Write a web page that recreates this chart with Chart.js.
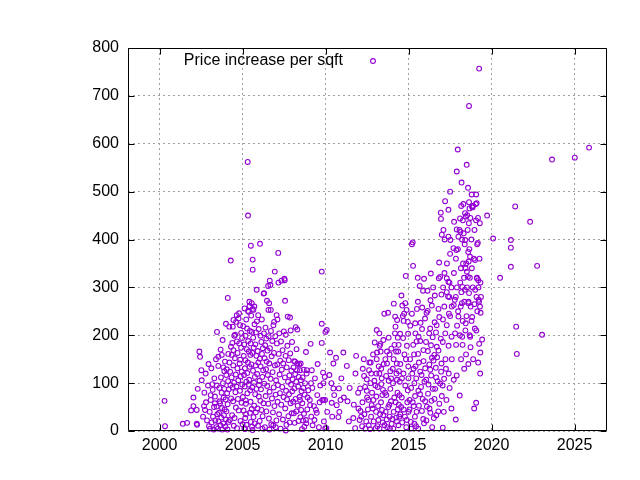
<!DOCTYPE html>
<html>
<head>
<meta charset="utf-8">
<script src="https://cdn.jsdelivr.net/npm/chart.js@4.4.1/dist/chart.umd.min.js"></script>
<style>
html,body{margin:0;padding:0;background:#fff;}
canvas{display:block;}
</style>
</head>
<body>
<canvas id="c" width="640" height="480"></canvas>
<script>
const seriesLabel = 'Price increase per sqft';
const xTickLabels = [2000, 2005, 2010, 2015, 2020, 2025];
const yTickLabels = [0, 100, 200, 300, 400, 500, 600, 700, 800];
const xRange = [1998.1, 2026.95];
const yRange = [0, 800];

// [year, price increase per sqft]
const earlyPoints = [
[2000.3,63],[2000.33,10],[2001.4,15],[2001.66,17],[2001.9,43],[2002.04,70],[2002.04,52],[2002.24,44],[2002.26,13],[2002.24,15],[2002.4,166],[2002.44,155],[2002.52,127],[2002.54,106],[2002.7,80],[2002.74,44],[2002.3,88],[2002.62,30],
[2002.8,60],[2002.86,22],[2002.78,120],[2002.92,95],[2002.98,10],[2002.68,52],[2002.95,140],
[2003.04,5],[2003.08,75],[2003.08,65],[2003.02,40],[2003.12,131],[2003.14,18],[2003.18,98],[2003.2,86],[2003.22,30],
[2003.26,3],[2003.3,110],[2003.28,50],[2003.34,72],[2003.34,58],[2003.36,22],[2003.4,150],[2003.42,8],[2003.44,51],[2003.46,207],[2003.48,35],[2003.45,95],
[2003.52,5],[2003.54,155],[2003.54,136],[2003.55,20],[2003.58,38],[2003.6,90],[2003.62,62],[2003.64,58],[2003.66,12],[2003.68,170],[2003.7,112],[2003.72,28],[2003.74,80],[2003.75,159],[2003.76,48],[2003.78,3],[2003.8,190],[2003.82,100],[2003.84,133],[2003.84,16],[2003.86,70],[2003.88,33],[2003.9,125],[2003.9,88],[2003.92,45],[2003.94,145],[2003.96,9],[2003.98,66],[2004.0,224],[2004.0,24],
[2004.02,117],[2004.03,41],[2004.05,129],[2004.07,79],[2004.09,3],[2004.1,56],[2004.11,278],[2004.13,104],[2004.14,161],[2004.16,19],[2004.17,87],[2004.2,218],[2004.21,143],[2004.23,23],[2004.25,124],[2004.27,96],[2004.29,356],[2004.3,176],[2004.31,68],[2004.34,112],[2004.35,159],[2004.37,33],[2004.38,184],[2004.4,91],[2004.41,218],[2004.43,62],[2004.44,137],[2004.45,169],[2004.45,232],[2004.47,11],[2004.49,101],[2004.5,199],
[2004.52,27],[2004.54,152],[2004.55,201],[2004.57,81],[2004.59,118],[2004.6,49],[2004.61,228],[2004.63,93],[2004.65,242],[2004.66,187],[2004.67,6],[2004.69,131],[2004.7,163],[2004.72,67],[2004.74,106],[2004.76,235],[2004.77,43],[2004.79,246],[2004.8,183],[2004.82,141],[2004.84,84],[2004.85,221],[2004.86,149],[2004.88,21],[2004.89,114],[2004.91,174],[2004.92,205],[2004.94,59],[2004.95,124],[2004.97,194],[2004.98,97],[2005.0,14]
];
const midPoints = [
[2005.02,71],[2005.04,219],[2005.07,157],[2005.06,43],[2005.09,117],[2005.11,6],[2005.1,181],[2005.13,93],[2005.12,256],[2005.16,27],[2005.14,131],[2005.19,64],[2005.17,148],[2005.18,199],[2005.21,35],[2005.23,103],[2005.2,57],[2005.22,233],[2005.26,171],[2005.24,13],[2005.27,214],[2005.29,79],[2005.28,121],[2005.31,562],[2005.33,450],[2005.33,251],[2005.32,143],[2005.34,188],[2005.36,249],[2005.37,97],[2005.38,166],[2005.41,270],[2005.42,261],[2005.43,134],[2005.4,107],[2005.45,38],[2005.44,209],[2005.47,159],[2005.46,85],[2005.49,183],[2005.5,387],[2005.5,19],[2005.48,61],
[2005.52,241],[2005.53,139],[2005.55,46],[2005.56,207],[2005.55,267],[2005.58,91],[2005.59,163],[2005.57,9],[2005.61,358],[2005.61,337],[2005.62,255],[2005.63,126],[2005.64,195],[2005.66,29],[2005.65,253],[2005.67,174],[2005.69,101],[2005.7,53],[2005.71,260],[2005.72,223],[2005.74,113],[2005.73,16],[2005.76,77],[2005.77,181],[2005.79,137],[2005.8,39],[2005.81,206],[2005.83,157],[2005.84,88],[2005.85,295],[2005.86,229],[2005.88,119],[2005.9,47],[2005.91,167],[2005.93,11],[2005.94,242],[2005.95,143],[2005.97,213],[2005.98,72],[2005.99,96],
[2006.02,105],[2006.03,21],[2006.04,151],[2006.05,391],[2006.07,63],[2006.08,199],[2006.09,135],[2006.11,87],[2006.13,186],[2006.14,44],[2006.16,233],[2006.17,161],[2006.19,113],[2006.21,31],[2006.22,173],[2006.24,127],[2006.26,58],[2006.27,287],[2006.29,204],[2006.3,288],[2006.31,99],[2006.33,152],[2006.35,8],[2006.36,179],[2006.38,216],[2006.39,73],[2006.41,129],[2006.43,193],[2006.44,41],[2006.45,145],[2006.47,272],[2006.48,94],[2006.5,168],
[2006.52,117],[2006.54,303],[2006.55,57],[2006.56,253],[2006.57,198],[2006.59,26],[2006.6,267],[2006.61,141],[2006.63,82],[2006.64,314],[2006.65,173],[2006.68,305],[2006.69,109],[2006.7,253],[2006.71,209],[2006.73,14],[2006.75,156],[2006.77,68],[2006.79,188],[2006.81,123],[2006.83,39],[2006.86,221],[2006.87,91],[2006.89,163],[2006.9,228],[2006.92,52],[2006.94,333],[2006.95,137],[2006.97,198],[2006.99,76],
[2007.02,106],[2007.04,22],[2007.05,242],[2007.07,183],[2007.09,139],[2007.1,233],[2007.11,61],[2007.13,96],[2007.15,372],[2007.16,310],[2007.18,161],[2007.2,35],[2007.21,204],[2007.23,118],[2007.25,79],[2007.27,147],[2007.29,5],[2007.31,187],[2007.33,55],[2007.34,314],[2007.36,128],[2007.39,92],[2007.41,169],[2007.43,24],[2007.45,141],[2007.47,71],[2007.49,208],
[2007.52,318],[2007.54,315],[2007.55,112],[2007.56,272],[2007.57,47],[2007.59,157],[2007.6,201],[2007.62,84],[2007.64,13],[2007.66,133],[2007.68,66],[2007.7,178],[2007.72,239],[2007.74,103],[2007.76,31],[2007.78,148],[2007.8,77],[2007.82,116],[2007.84,18],[2007.86,237],[2007.87,162],[2007.89,58],[2007.9,210],[2007.92,97],[2007.94,126],[2007.96,37],[2007.98,186],[2007.99,83],
[2005.15,4],[2005.6,2],[2006.2,5],[2006.62,3],[2007.0,8],[2007.6,1],[2006.85,12]
];
const laterPoints = [
[2008.02,108],[2008.05,61],[2008.07,133],[2008.09,37],[2008.1,146],[2008.12,89],[2008.14,17],[2008.16,145],[2008.17,119],[2008.19,67],[2008.2,217],[2008.23,103],[2008.24,41],[2008.25,171],[2008.28,127],[2008.3,212],[2008.3,141],[2008.32,53],[2008.35,93],[2008.37,21],[2008.38,113],[2008.41,139],[2008.43,71],[2008.45,127],[2008.46,65],[2008.48,29],[2008.5,141],[2008.51,106],[2008.53,44],[2008.55,83],
[2008.58,4],[2008.6,58],[2008.62,112],[2008.64,22],[2008.66,90],[2008.68,128],[2008.7,36],[2008.72,9],[2008.74,76],[2008.76,100],[2008.82,165],[2008.82,23],[2008.84,16],[2008.86,120],[2008.87,127],[2008.9,45],[2008.92,70],[2008.96,85],
[2009.05,65],[2009.07,54],[2009.1,182],[2009.12,100],[2009.14,30],[2009.17,127],[2009.2,90],[2009.22,12],[2009.3,52],[2009.33,23],[2009.36,110],[2009.42,44],[2009.47,38],[2009.5,75],[2009.52,140],[2009.6,8],[2009.64,60],[2009.68,95],[2009.77,333],[2009.77,224],[2009.77,184],[2009.8,65],[2009.85,122],[2009.87,100],[2009.88,65],[2009.9,20],[2009.95,113],[2009.97,65],[2009.98,6],[2009.99,207],
[2010.05,6],[2010.07,211],[2010.1,40],[2010.23,117],[2010.27,164],[2010.35,100],[2010.37,59],[2010.4,30],[2010.47,89],[2010.47,141],[2010.52,75],[2010.63,153],[2010.67,54],[2010.77,29],[2010.8,89],[2010.83,40],[2010.9,65],[2010.95,110],[2011.07,164],[2011.1,70],[2011.28,136],[2011.32,62],[2011.4,20],[2011.45,90],[2011.67,27],[2011.7,55],[2011.78,6],[2011.8,120],[2011.84,157],[2011.98,47],[2011.96,80],
[2012.05,23],[2012.08,89],[2012.1,42],[2012.2,10],[2012.22,60],[2012.24,130],[2012.32,115],[2012.34,35],[2012.38,92],[2012.4,5],[2012.48,84],[2012.48,108],[2012.5,70],[2012.58,65],[2012.6,12],[2012.62,127],[2012.64,143],[2012.68,4],[2012.7,100],[2012.72,143],[2012.74,30],[2012.78,54],[2012.8,80],[2012.84,47],[2012.86,160],[2012.9,20],[2012.94,105],[2012.96,185],
[2012.15,30],[2012.45,20],[2012.55,45],[2012.88,65],[2012.3,150],[2012.75,120],
[2013.02,6],[2013.04,40],[2013.06,72],[2013.06,120],[2013.08,150],[2013.08,211],[2013.1,164],[2013.14,92],[2013.16,52],[2013.18,23],[2013.2,135],[2013.24,204],[2013.24,120],[2013.25,5],[2013.26,178],[2013.3,182],[2013.32,166],[2013.34,60],[2013.36,98],[2013.38,110],[2013.4,44],[2013.42,75],[2013.46,86],[2013.48,33],[2013.48,190],[2013.5,140],
[2013.12,10],[2013.28,35],[2013.44,18],[2013.0,95],[2013.35,130],
[2013.54,245],[2013.55,12],[2013.58,80],[2013.6,150],[2013.66,75],[2013.68,24],[2013.7,141],[2013.7,166],[2013.76,247],[2013.78,50],[2013.8,105],[2013.8,195],[2013.86,30],[2013.88,5],[2013.9,125],[2013.9,88],[2013.94,62],[2013.96,172],[2013.98,15],
[2013.62,40],[2013.72,8],[2013.84,55],[2013.65,115],[2013.85,160],[2013.95,110],
[2014.06,100],[2014.08,5],[2014.1,40],[2014.1,150],[2014.11,266],[2014.18,204],[2014.19,239],[2014.21,218],[2014.22,60],[2014.25,166],[2014.26,28],[2014.27,120],[2014.29,141],[2014.3,107],[2014.31,232],[2014.33,80],[2014.37,166],[2014.39,12],[2014.41,55],[2014.47,103],[2014.49,203],[2014.5,35],[2014.5,140],
[2014.02,25],[2014.14,70],[2014.35,45],[2014.44,30],[2014.05,130],[2014.35,195],[2014.42,125],[2014.3,20],[2014.45,75],[2014.4,180],[2014.15,180],
[2014.57,283],[2014.59,70],[2014.61,18],[2014.67,194],[2014.69,120],[2014.7,45],[2014.73,245],[2014.75,160],[2014.78,30],[2014.8,95],[2014.83,324],[2014.84,150],[2014.86,8],[2014.88,253],[2014.89,23],[2014.9,178],[2014.92,60],[2014.97,203],[2014.98,135],[2014.99,110],[2015.0,40],
[2014.62,262],[2014.7,230],[2014.8,267],[2014.95,228],[2014.65,240],[2014.55,50],[2014.95,85],[2014.6,110],
[2015.06,65],[2015.09,150],[2015.1,220],[2015.13,19],[2015.15,90],[2015.2,245],[2015.2,390],[2015.22,120],[2015.25,394],[2015.27,345],[2015.28,180],[2015.31,52],[2015.33,160],[2015.35,100],[2015.38,30],[2015.39,73],[2015.4,225],[2015.41,204],[2015.42,135],[2015.45,10],[2015.46,110],[2015.48,187],[2015.5,255],
[2015.05,45],[2015.15,5],[2015.25,60],[2015.35,15],[2015.48,40],[2015.3,130],
[2015.55,320],[2015.56,270],[2015.57,161],[2015.58,5],[2015.59,84],[2015.6,197],[2015.62,143],[2015.67,303],[2015.69,77],[2015.7,188],[2015.72,226],[2015.78,117],[2015.8,42],[2015.81,213],[2015.82,258],[2015.87,293],[2015.88,25],[2015.89,169],[2015.93,318],[2015.93,16],[2015.95,103],[2015.99,235],[2016.0,131],[2016.0,62],
[2015.62,53],[2015.75,92],[2015.85,67],[2015.7,124],[2015.9,146],
[2016.05,186],[2016.06,107],[2016.07,22],[2016.08,247],[2016.14,293],[2016.15,251],[2016.16,167],[2016.17,78],[2016.24,204],[2016.25,139],[2016.26,47],[2016.3,214],[2016.31,38],[2016.32,273],[2016.34,329],[2016.35,179],[2016.36,116],[2016.4,262],[2016.41,153],[2016.42,8],[2016.45,196],[2016.46,88],[2016.48,300],
[2016.1,51],[2016.2,97],[2016.38,63],[2016.3,128],
[2016.55,159],[2016.56,67],[2016.57,227],[2016.58,283],[2016.64,132],[2016.65,206],[2016.66,112],[2016.67,33],[2016.69,221],[2016.7,176],[2016.79,41],[2016.8,168],[2016.8,255],[2016.82,319],[2016.84,352],[2016.85,238],[2016.9,322],[2016.94,456],[2016.95,443],[2016.94,193],[2016.96,124],[2016.98,285],[2016.98,141],[2017.0,73],[2017.0,410],
[2016.52,27],[2016.6,88],[2016.75,104],[2016.85,57],[2016.5,147],[2016.72,154],[2016.9,99]
];
const recentPoints = [
[2017.06,7],[2017.06,186],[2017.07,233],[2017.08,300],[2017.1,420],[2017.14,109],[2017.15,260],[2017.16,330],[2017.17,400],[2017.2,480],[2017.21,204],[2017.22,150],[2017.28,65],[2017.3,221],[2017.3,290],[2017.31,350],[2017.3,319],[2017.4,462],[2017.4,406],[2017.41,178],[2017.42,120],[2017.43,245],[2017.38,281],[2017.4,312],[2017.45,280],[2017.46,310],[2017.47,90],
[2017.05,95],[2017.12,40],[2017.25,130],
[2017.5,500],[2017.5,370],[2017.5,240],[2017.52,399],[2017.58,47],[2017.58,300],[2017.59,197],[2017.6,150],[2017.6,260],[2017.7,382],[2017.72,107],[2017.72,263],[2017.73,330],[2017.74,437],[2017.78,274],[2017.8,204],[2017.84,24],[2017.84,280],[2017.85,360],[2017.86,180],[2017.88,378],[2017.9,116],[2017.9,542],[2017.9,421],[2017.91,300],[2017.92,220],[2017.96,588],[2017.97,380],[2017.98,250],[2018.0,406],[2018.0,239],
[2018.08,74],[2018.07,420],[2018.11,310],[2018.09,200],[2018.12,416],[2018.1,444],[2018.15,340],[2018.14,260],[2018.16,150],[2018.17,470],[2018.19,519],[2018.22,400],[2018.18,290],[2018.24,301],[2018.21,267],[2018.23,197],[2018.26,230],[2018.25,180],[2018.28,350],[2018.27,440],[2018.3,474],[2018.32,413],[2018.34,320],[2018.36,270],[2018.35,130],[2018.38,390],[2018.41,399],[2018.43,340],[2018.39,295],[2018.44,225],[2018.42,210],[2018.46,160],[2018.4,455],[2018.45,448],[2018.5,556],[2018.52,300],[2018.49,240],[2018.47,350],[2018.53,451],[2018.51,333],
[2018.58,508],[2018.56,420],[2018.61,270],[2018.6,140],[2018.63,434],[2018.59,374],[2018.62,354],[2018.57,322],[2018.64,288],[2018.61,267],[2018.64,679],[2018.64,478],[2018.67,465],[2018.66,380],[2018.69,320],[2018.68,200],[2018.7,364],[2018.71,197],[2018.72,445],[2018.74,260],[2018.73,175],[2018.8,494],[2018.78,400],[2018.81,340],[2018.79,230],[2018.83,238],[2018.82,469],[2018.85,467],[2018.88,470],[2018.87,300],[2018.89,150],[2018.95,47],[2018.93,360],[2018.96,265],[2018.97,420],[2019.0,357],[2019.01,295],[2018.99,214],
[2019.05,474],[2019.07,494],[2019.07,59],[2019.06,440],[2019.09,280],[2019.08,210],[2019.1,476],[2019.11,319],[2019.13,390],[2019.12,320],[2019.14,250],[2019.19,143],[2019.18,445],[2019.21,300],[2019.2,315],[2019.22,274],[2019.17,393],[2019.25,757],[2019.25,182],[2019.27,360],[2019.24,270],[2019.3,260],[2019.31,120],[2019.32,164],[2019.29,434],[2019.33,310],[2019.43,191],[2019.36,280],[2019.34,247],
[2019.73,450],[2020.09,402],[2020.51,320],[2021.16,399],[2021.16,383],[2021.16,343],[2021.42,469],[2021.48,218],[2021.52,161],[2022.32,437],[2022.74,345],[2023.04,201],[2023.64,567],[2025.01,571],[2025.87,592]
];

const markerColor = '#9400d3';
const allPoints = earlyPoints.concat(midPoints, laterPoints, recentPoints).map(p => ({x: p[0], y: p[1]}));
const fontFamily = '"Liberation Sans", Arial, Helvetica, sans-serif';
const fontSize = 16;

const framePlugin = {
  id: 'gnuFrame',
  afterDatasetsDraw(chart) {
    const ctx = chart.ctx;
    const a = chart.chartArea;
    const xs = chart.scales.x, ys = chart.scales.y;
    const L = Math.round(a.left) + 0.5, R = Math.round(a.right) - 0.5;
    const T = Math.round(a.top) + 0.5, B = Math.round(a.bottom) - 0.5;
    ctx.save();
    ctx.strokeStyle = '#000';
    ctx.lineWidth = 1;
    ctx.setLineDash([]);
    ctx.beginPath();
    ctx.rect(L, T, R - L, B - T);
    const tl = 6;
    xTickLabels.forEach(v => {
      const px = Math.round(xs.getPixelForValue(v)) + 0.5;
      ctx.moveTo(px, B); ctx.lineTo(px, B - tl);
      ctx.moveTo(px, T); ctx.lineTo(px, T + tl);
    });
    yTickLabels.forEach(v => {
      const py = Math.round(ys.getPixelForValue(v)) + 0.5;
      ctx.moveTo(L, py); ctx.lineTo(L + tl, py);
      ctx.moveTo(R, py); ctx.lineTo(R - tl, py);
    });
    ctx.stroke();
    // key
    ctx.fillStyle = '#000';
    ctx.font = fontSize + 'px ' + fontFamily;
    ctx.textAlign = 'right';
    ctx.textBaseline = 'alphabetic';
    ctx.fillText(chart.data.datasets[0].label, 343, 65);
    ctx.strokeStyle = markerColor;
    ctx.lineWidth = 1.1;
    ctx.beginPath();
    ctx.arc(373, 61, 2.4, 0, Math.PI * 2);
    ctx.stroke();
    ctx.restore();
  }
};

new Chart(document.getElementById('c'), {
  type: 'scatter',
  data: {
    datasets: [{
      label: seriesLabel,
      data: allPoints,
      pointStyle: 'circle',
      pointRadius: 2.4,
      pointHoverRadius: 2.4,
      pointBorderWidth: 1.1,
      pointBorderColor: markerColor,
      pointBackgroundColor: 'rgba(0,0,0,0)',
      borderColor: markerColor,
      backgroundColor: 'rgba(0,0,0,0)',
      clip: false
    }]
  },
  options: {
    responsive: false,
    devicePixelRatio: 1,
    animation: false,
    events: [],
    layout: { padding: { left: 0, right: 33, top: 48, bottom: 0 } },
    plugins: { legend: { display: false }, tooltip: { enabled: false }, title: { display: false } },
    scales: {
      x: {
        type: 'linear',
        min: xRange[0], max: xRange[1],
        afterBuildTicks: s => { s.ticks = xTickLabels.map(v => ({ value: v })); },
        afterFit: s => { s.height = 49; },
        ticks: {
          autoSkip: false, maxRotation: 0, padding: 5,
          color: '#000',
          font: { family: fontFamily, size: fontSize },
          callback: v => String(v)
        },
        grid: { color: '#a0a0a0', lineWidth: 1, drawTicks: false },
        border: { display: false, dash: [2, 3] }
      },
      y: {
        type: 'linear',
        min: yRange[0], max: yRange[1],
        afterBuildTicks: s => { s.ticks = yTickLabels.map(v => ({ value: v })); },
        afterFit: s => { s.width = 128; },
        ticks: {
          autoSkip: false, padding: 9,
          color: '#000',
          font: { family: fontFamily, size: fontSize },
          callback: v => String(v)
        },
        grid: { color: '#a0a0a0', lineWidth: 1, drawTicks: false },
        border: { display: false, dash: [2, 3] }
      }
    }
  },
  plugins: [framePlugin]
});
</script>
</body>
</html>
